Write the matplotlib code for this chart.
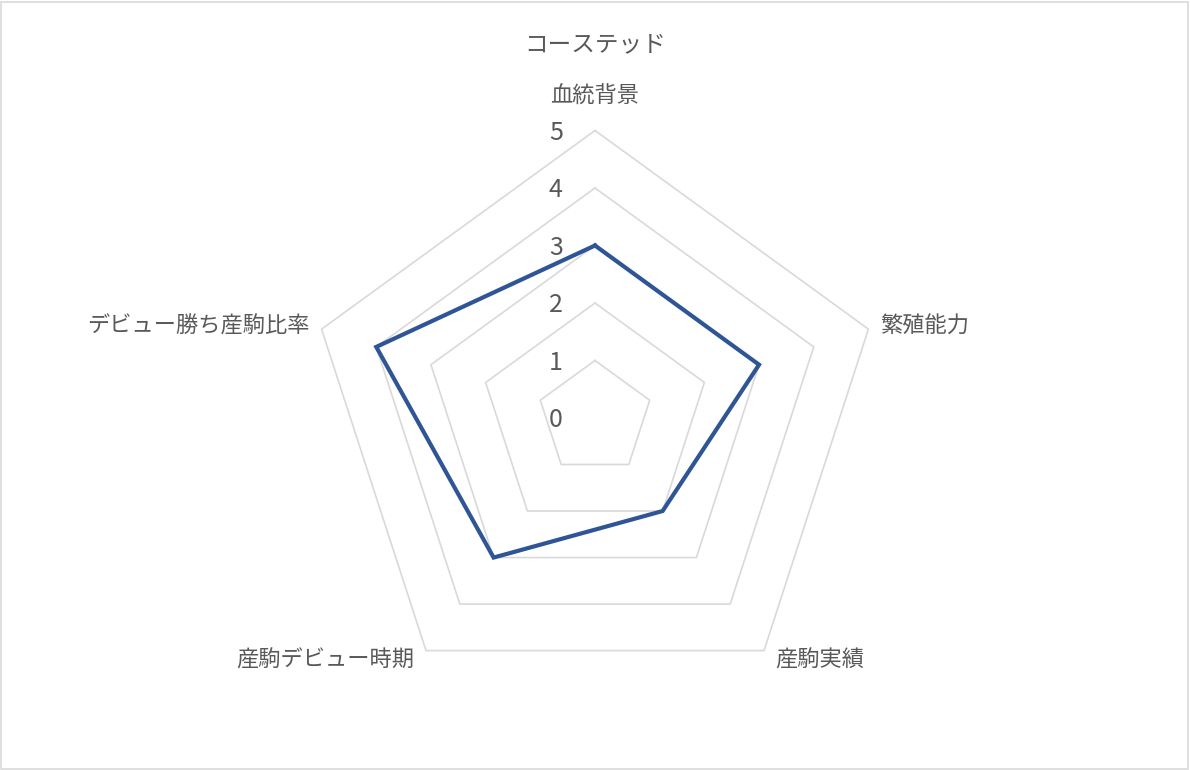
import numpy as np
import matplotlib
matplotlib.use("Agg")
import matplotlib.pyplot as plt
from matplotlib.patches import Rectangle

plt.rcParams['font.family'] = ['Noto Sans CJK JP', 'DejaVu Sans']

title = "コーステッド"
categories = ["血統背景", "繁殖能力", "産駒実績", "産駒デビュー時期", "デビュー勝ち産駒比率"]
values = [3, 3, 2, 3, 4]
levels = [0, 1, 2, 3, 4, 5]

text_color = "#595959"
grid_color = "#D9D9D9"
line_color = "#2F5597"

W, H = 1190, 770
cx, cy = 595, 418      # centre of the web in pixels
unit = 57.5            # pixels per value step

fig = plt.figure(figsize=(W / 100, H / 100), dpi=100)
ax = fig.add_axes([0, 0, 1, 1])
ax.set_xlim(-cx / unit, (W - cx) / unit)
ax.set_ylim(-(H - cy) / unit, cy / unit)
ax.axis("off")

n = len(categories)
angles = np.pi / 2 - 2 * np.pi * np.arange(n) / n


def ring(r):
    xs = r * np.cos(angles)
    ys = r * np.sin(angles)
    return np.append(xs, xs[0]), np.append(ys, ys[0])


for lv in levels[1:]:
    xs, ys = ring(lv)
    ax.plot(xs, ys, color=grid_color, lw=1.2, zorder=1)

for lv in levels:
    ax.text(-0.68, lv - 0.04, str(lv), ha="center", va="center",
            fontsize=18, color=text_color)

v = np.array(values, dtype=float)
xs = v * np.cos(angles)
ys = v * np.sin(angles)
ax.plot(np.append(xs, xs[0]), np.append(ys, ys[0]),
        color=line_color, lw=3.0, zorder=3, solid_joinstyle="miter")

rmax = levels[-1]
pad = 0.2
for i, (cat, a) in enumerate(zip(categories, angles)):
    x = rmax * np.cos(a)
    y = rmax * np.sin(a)
    if i == 0:
        ax.text(x, y + 0.6, cat, ha="center", va="center",
                fontsize=16, color=text_color)
    elif x > 0:
        dy = 0.05 if y > 0 else -0.17
        ax.text(x + pad, y + dy, cat, ha="left", va="center",
                fontsize=16, color=text_color)
    else:
        dy = 0.05 if y > 0 else -0.17
        ax.text(x - pad, y + dy, cat, ha="right", va="center",
                fontsize=16, color=text_color)

fig.text(0.5, 1 - 45 / H, title, ha="center", va="center",
         fontsize=17, color=text_color)

fig.patches.append(Rectangle((0.001, 0.001), 0.997, 0.997, transform=fig.transFigure,
                             fill=False, edgecolor=grid_color, lw=1.2))

fig.savefig("out.png", dpi=100)
